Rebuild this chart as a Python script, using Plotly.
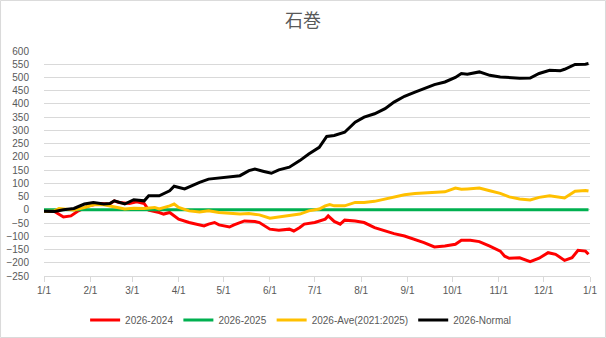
import plotly.graph_objects as go

title_text = "石巻"

red_name = "2026-2024"
red_dates = ["2026-01-01", "2026-01-08", "2026-01-14", "2026-01-19", "2026-01-24", "2026-01-31",
             "2026-02-07", "2026-02-14", "2026-02-17", "2026-02-20", "2026-02-27", "2026-03-04",
             "2026-03-09", "2026-03-12", "2026-03-19", "2026-03-22", "2026-03-26", "2026-03-29",
             "2026-04-01", "2026-04-08", "2026-04-11", "2026-04-18", "2026-04-21", "2026-04-25",
             "2026-04-28", "2026-05-05", "2026-05-08", "2026-05-15", "2026-05-22", "2026-05-25",
             "2026-06-01", "2026-06-07", "2026-06-14", "2026-06-17", "2026-06-21", "2026-06-24",
             "2026-07-01", "2026-07-08", "2026-07-10", "2026-07-14", "2026-07-18", "2026-07-21",
             "2026-07-28", "2026-08-03", "2026-08-10", "2026-08-17", "2026-08-23", "2026-08-30",
             "2026-09-06", "2026-09-12", "2026-09-19", "2026-09-26", "2026-10-03", "2026-10-07",
             "2026-10-13", "2026-10-19", "2026-10-26", "2026-11-02", "2026-11-05", "2026-11-08",
             "2026-11-15", "2026-11-22", "2026-11-28", "2026-12-04", "2026-12-09", "2026-12-15",
             "2026-12-20", "2026-12-24", "2026-12-29", "2026-12-31"]
red_values = [-6, -6, -27, -23, -4, 15,
              24, 22, 34, 28, 24, 30,
              24, -1, -10, -16, -10, -23,
              -35, -48, -52, -61, -54, -48,
              -57, -65, -57, -42, -44, -48,
              -73, -77, -73, -80, -67, -54,
              -48, -35, -23, -44, -54, -39,
              -42, -48, -67, -80, -90, -99,
              -111, -124, -140, -137, -130, -115,
              -115, -120, -137, -156, -175, -183,
              -181, -196, -183, -162, -168, -191,
              -181, -153, -156, -168]

green_name = "2026-2025"
green_dates = ["2026-01-01", "2026-12-31"]
green_values = [0, 0]

orange_name = "2026-Ave(2021:2025)"
orange_dates = ["2026-01-01", "2026-01-08", "2026-01-11", "2026-01-14", "2026-01-21", "2026-01-28",
                "2026-02-03", "2026-02-10", "2026-02-17", "2026-02-24", "2026-03-02", "2026-03-09",
                "2026-03-16", "2026-03-19", "2026-03-26", "2026-03-29", "2026-04-01", "2026-04-08",
                "2026-04-15", "2026-04-21", "2026-04-28", "2026-05-05", "2026-05-12", "2026-05-18",
                "2026-05-25", "2026-06-01", "2026-06-07", "2026-06-14", "2026-06-21", "2026-06-27",
                "2026-07-04", "2026-07-08", "2026-07-11", "2026-07-14", "2026-07-18", "2026-07-21",
                "2026-07-28", "2026-08-03", "2026-08-10", "2026-08-17", "2026-08-23", "2026-08-30",
                "2026-09-06", "2026-09-12", "2026-09-19", "2026-09-26", "2026-10-03", "2026-10-07",
                "2026-10-11", "2026-10-19", "2026-10-26", "2026-11-02", "2026-11-08", "2026-11-15",
                "2026-11-22", "2026-11-28", "2026-12-05", "2026-12-12", "2026-12-15", "2026-12-22",
                "2026-12-29", "2026-12-31"]
orange_values = [-6, -4, 5, 3, -1, 9,
                 19, 19, 11, 3, 6, 5,
                 9, 3, 15, 22, 9, -4,
                 -8, -4, -10, -14, -16, -14,
                 -19, -32, -27, -23, -16, -4,
                 3, 15, 20, 15, 15, 15,
                 28, 28, 32, 41, 47, 57,
                 62, 64, 66, 68, 82, 78,
                 79, 82, 72, 62, 49, 41,
                 37, 47, 53, 47, 45, 70,
                 73, 71]

black_name = "2026-Normal"
black_dates = ["2026-01-01", "2026-01-08", "2026-01-14", "2026-01-21", "2026-01-28", "2026-02-03",
               "2026-02-10", "2026-02-14", "2026-02-17", "2026-02-24", "2026-03-02", "2026-03-09",
               "2026-03-12", "2026-03-19", "2026-03-26", "2026-03-29", "2026-04-05", "2026-04-11",
               "2026-04-15", "2026-04-21", "2026-04-28", "2026-05-05", "2026-05-12", "2026-05-18",
               "2026-05-22", "2026-05-28", "2026-06-02", "2026-06-07", "2026-06-14", "2026-06-21",
               "2026-06-27", "2026-07-04", "2026-07-09", "2026-07-14", "2026-07-21", "2026-07-28",
               "2026-08-03", "2026-08-10", "2026-08-17", "2026-08-23", "2026-08-30", "2026-09-06",
               "2026-09-12", "2026-09-19", "2026-09-26", "2026-10-03", "2026-10-07", "2026-10-11",
               "2026-10-19", "2026-10-26", "2026-11-02", "2026-11-15", "2026-11-22", "2026-11-28",
               "2026-12-05", "2026-12-12", "2026-12-15", "2026-12-22", "2026-12-29", "2026-12-31"]
black_values = [-5, -6, 0, 5, 22, 28,
                22, 24, 34, 22, 38, 34,
                53, 53, 72, 89, 79, 95,
                104, 116, 120, 123, 129, 148,
                154, 145, 138, 151, 161, 186,
                211, 236, 277, 281, 293, 331,
                350, 363, 382, 407, 429, 445,
                458, 473, 483, 500, 515, 512,
                521, 508, 502, 497, 498, 515,
                527, 525, 531, 549, 550, 553]

tick_dates = ["2026-01-01", "2026-02-01", "2026-03-01", "2026-04-01", "2026-05-01", "2026-06-01",
              "2026-07-01", "2026-08-01", "2026-09-01", "2026-10-01", "2026-11-01", "2026-12-01",
              "2027-01-01"]
tick_labels = ["1/1", "2/1", "3/1", "4/1", "5/1", "6/1", "7/1", "8/1", "9/1", "10/1", "11/1",
               "12/1", "1/1"]
y_range = [-250, 600]

fig = go.Figure()
series = [
    (red_name, red_dates, red_values, "#FF0000"),
    (green_name, green_dates, green_values, "#00B050"),
    (orange_name, orange_dates, orange_values, "#FFC000"),
    (black_name, black_dates, black_values, "#000000"),
]
for name, xs, ys, col in series:
    fig.add_trace(go.Scatter(x=xs, y=ys, name=name, mode="lines",
                             line=dict(color=col, width=3)))

font_main = "Liberation Sans, Arial, sans-serif"
fig.update_layout(
    width=606, height=338,
    margin=dict(l=44, r=16, t=51, b=62, autoexpand=False),
    paper_bgcolor="white", plot_bgcolor="white",
    title=dict(text=title_text, x=0.5, xanchor="center", y=0.94, yanchor="middle",
               font=dict(family="Noto Sans CJK JP", size=18, color="#595959")),
    showlegend=True,
    legend=dict(orientation="h", x=0.47, xanchor="center", y=-0.195, yanchor="middle",
                font=dict(family=font_main, size=10, color="#595959"),
                bgcolor="rgba(0,0,0,0)"),
    xaxis=dict(type="date", range=["2026-01-01", "2027-01-01"],
               tickvals=tick_dates, ticktext=tick_labels,
               showgrid=False, zeroline=False,
               showline=True, linecolor="#D9D9D9", linewidth=1,
               ticks="outside", ticklen=5, tickcolor="#D9D9D9",
               tickfont=dict(family=font_main, size=10, color="#595959")),
    yaxis=dict(range=y_range, dtick=50, tick0=0,
               showgrid=True, gridcolor="#D9D9D9", gridwidth=1,
               zeroline=False, showline=False, ticks="",
               ticklabelstandoff=14,
               tickfont=dict(family=font_main, size=10, color="#595959")),
    shapes=[dict(type="rect", xref="paper", yref="paper",
                 x0=-44 / 546 + 0.001, x1=(606 - 44) / 546 - 0.001,
                 y0=-62 / 225 + 0.002, y1=(338 - 62) / 225 - 0.002,
                 line=dict(color="#D9D9D9", width=1), fillcolor="rgba(0,0,0,0)", layer="below")],
)

fig.write_html("out.html")
